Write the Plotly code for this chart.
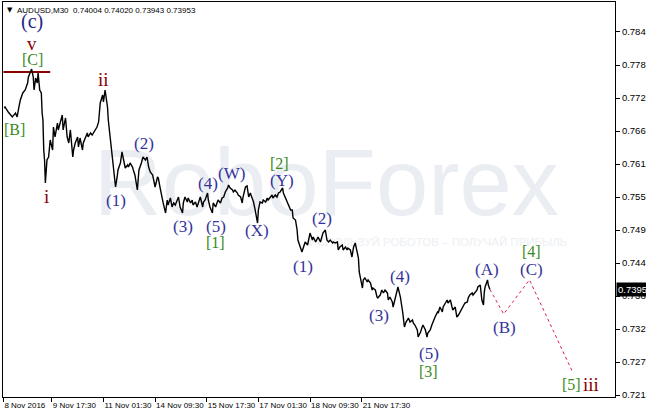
import plotly.graph_objects as go

# ---- price data (M30 close line), bar index vs price ----
bars = [1, 2, 6, 11, 15, 17, 19, 21, 24, 27, 30, 31, 35, 37, 38, 40, 42, 43, 45, 47,
        48, 49, 50, 51, 52, 54, 56, 58, 61, 62, 64, 67, 68, 71, 73, 74, 77, 79, 81, 83,
        86, 87, 89, 92, 93, 95, 98, 99, 102, 104, 105, 108, 110, 112, 114, 116, 118, 120, 123, 124,
        126, 129, 130, 133, 135, 136, 139, 141, 142, 145, 147, 149, 151, 154, 155, 157, 160, 161, 163, 166,
        167, 168, 171, 173, 176, 178, 180, 182, 185, 186, 188, 191, 192, 194, 197, 198, 201, 203, 204, 207,
        209, 211, 213, 216, 217, 219, 222, 223, 225, 228, 229, 232, 234, 235, 238, 240, 242, 244, 247, 248,
        250, 253, 254, 256, 259, 260, 263, 265, 266, 269, 271, 273, 275, 278, 279, 281, 284, 285, 287, 290,
        291, 294, 296, 297, 300, 302, 304, 306, 308, 310, 312, 315, 316, 318, 321, 322, 325, 327, 328, 331,
        333, 334, 337, 339, 341, 343, 346, 347, 349, 352, 353, 356, 358, 359, 362, 364, 365, 368, 370, 372,
        374, 377, 378, 380, 383, 384, 387, 389, 390, 393, 395, 396, 399, 401, 403, 405, 408, 409, 411, 414,
        415, 417, 420, 421, 424, 426, 427, 430, 432, 434, 436, 438, 440, 441, 443, 445, 446, 448, 451, 452,
        455, 457, 458, 461, 463, 464, 467, 469, 471, 473, 476, 477, 479, 482, 483, 486, 488, 489, 492, 494,
        495, 497, 499, 502, 504, 507, 508, 510, 513, 514, 517, 519, 520, 523, 525, 526, 529, 531, 533, 535,
        538, 539, 541, 544, 545, 548, 550, 551, 554, 556, 557, 560, 562, 564, 566, 569, 570, 572, 575, 576,
        578, 581, 582, 585, 587, 588, 591, 593, 595, 596, 597, 600, 601, 603]
closes = [0.77088, 0.77105, 0.77018, 0.76932, 0.77001, 0.76932, 0.77088, 0.77226, 0.77347, 0.77398,
          0.77519, 0.77623, 0.77760, 0.77623, 0.77398, 0.77606, 0.77519, 0.77692, 0.77398, 0.77347,
          0.77001, 0.76880, 0.76362, 0.76189, 0.75792, 0.76189, 0.76241, 0.76535, 0.76362, 0.76759,
          0.76587, 0.76828, 0.76708, 0.76880, 0.76967, 0.76708, 0.76915, 0.76587, 0.76483, 0.76708,
          0.76241, 0.76362, 0.76483, 0.76587, 0.76414, 0.76569, 0.76362, 0.76483, 0.76587, 0.76656,
          0.76587, 0.76656, 0.76621, 0.76673, 0.76708, 0.76759, 0.76846, 0.77174, 0.77312, 0.77191,
          0.77398, 0.77105, 0.76880, 0.76483, 0.76310, 0.76068, 0.75723, 0.75896, 0.76017, 0.76138,
          0.76328, 0.76189, 0.76051, 0.76103, 0.76068, 0.76138, 0.76068, 0.76017, 0.75930, 0.75671,
          0.75878, 0.76017, 0.76138, 0.76241, 0.76189, 0.76241, 0.76068, 0.75982, 0.75930, 0.75844,
          0.75723, 0.75896, 0.75878, 0.75723, 0.75498, 0.75447, 0.75274, 0.75498, 0.75412, 0.75533,
          0.75378, 0.75447, 0.75412, 0.75498, 0.75550, 0.75378, 0.75274, 0.75447, 0.75550, 0.75464,
          0.75533, 0.75447, 0.75498, 0.75412, 0.75464, 0.75378, 0.75447, 0.75550, 0.75378, 0.75464,
          0.75498, 0.75619, 0.75498, 0.75378, 0.75274, 0.75447, 0.75378, 0.75447, 0.75498, 0.75447,
          0.75533, 0.75550, 0.75637, 0.75706, 0.75758, 0.75706, 0.75671, 0.75637, 0.75671, 0.75619,
          0.75585, 0.75550, 0.75447, 0.75550, 0.75723, 0.75740, 0.75550, 0.75619, 0.75533, 0.75464,
          0.75326, 0.75101, 0.75326, 0.75464, 0.75447, 0.75498, 0.75464, 0.75533, 0.75498, 0.75550,
          0.75585, 0.75533, 0.75585, 0.75550, 0.75619, 0.75637, 0.75706, 0.75619, 0.75550, 0.75464,
          0.75447, 0.75326, 0.75326, 0.75188, 0.75153, 0.74980, 0.74807, 0.74687, 0.74600, 0.74687,
          0.74773, 0.74721, 0.74807, 0.74928, 0.74807, 0.74859, 0.74773, 0.74842, 0.74859, 0.74773,
          0.74859, 0.74928, 0.74980, 0.74807, 0.74773, 0.74807, 0.74756, 0.74773, 0.74756, 0.74773,
          0.74635, 0.74687, 0.74721, 0.74635, 0.74687, 0.74635, 0.74669, 0.74635, 0.74514, 0.74687,
          0.74756, 0.74635, 0.74497, 0.74255, 0.74082, 0.73978, 0.74117, 0.74151, 0.74082, 0.74117,
          0.74065, 0.73944, 0.73978, 0.73944, 0.73823, 0.73806, 0.73857, 0.73944, 0.73892, 0.73944,
          0.73892, 0.73771, 0.73823, 0.73737, 0.73650, 0.73823, 0.73909, 0.73996, 0.73823, 0.73650,
          0.73547, 0.73305, 0.73391, 0.73460, 0.73391, 0.73426, 0.73374, 0.73339, 0.73253, 0.73132,
          0.73218, 0.73305, 0.73339, 0.73253, 0.73132, 0.73201, 0.73253, 0.73339, 0.73426, 0.73477,
          0.73564, 0.73547, 0.73650, 0.73564, 0.73650, 0.73737, 0.73771, 0.73719, 0.73771, 0.73650,
          0.73598, 0.73650, 0.73477, 0.73512, 0.73564, 0.73650, 0.73685, 0.73719, 0.73737, 0.73806,
          0.73857, 0.73892, 0.73857, 0.73909, 0.73944, 0.73996, 0.74030, 0.73771, 0.73685, 0.73909,
          0.73996, 0.74117, 0.74030, 0.73953]

# forecast path (A)->(B)->(C)->[5]
forecast_bars = [603, 620, 652, 705]
forecast_prices = [0.73953, 0.73530, 0.74120, 0.72540]

# resistance level at the [C] top
level_bars = [0, 58]
level_price = 0.77710

x_tick_bars = [0, 60, 124, 188, 252, 316, 380, 444]
x_tick_labels = ["8 Nov 2016", "9 Nov 17:30", "11 Nov 01:30", "14 Nov 09:30",
                 "15 Nov 17:30", "17 Nov 01:30", "18 Nov 09:30", "21 Nov 17:30"]
y_ticks = [0.7840, 0.7783, 0.7726, 0.7669, 0.7612, 0.7555, 0.7498, 0.7441,
           0.7384, 0.7327, 0.7270, 0.7213]
y_tick_labels = ["0.7840", "0.7783", "0.7726", "0.7669", "0.7612", "0.7555", "0.7498",
                 "0.7441", "0.7384", "0.7327", "0.7270", "0.7213"]
last_price = 0.73953
header_text = "AUDUSD,M30&nbsp;&nbsp;0.74004 0.74020 0.73943 0.73953"

# wave labels: text, bar, price, kind
wave_labels = [
    ("(c)", 36, 0.78573, "c"),
    ("v", 36, 0.78193, "roman"),
    ("[C]", 36, 0.77917, "green"),
    ("[B]", 14, 0.76708, "green"),
    ("i", 53, 0.75567, "roman"),
    ("ii", 124, 0.77588, "roman"),
    ("(1)", 140, 0.75486, "blue"),
    ("(2)", 174, 0.76478, "blue"),
    ("(3)", 222, 0.75037, "blue"),
    ("(4)", 253, 0.75787, "blue"),
    ("(5)", 263, 0.75037, "blue"),
    ("[1]", 263, 0.74761, "green"),
    ("(W)", 283, 0.75960, "blue"),
    ("(X)", 314, 0.74980, "blue"),
    ("(Y)", 345, 0.75832, "blue"),
    ("[2]", 342, 0.76132, "green"),
    ("(1)", 371, 0.74346, "blue"),
    ("(2)", 395, 0.75182, "blue"),
    ("(3)", 466, 0.73512, "blue"),
    ("(4)", 492, 0.74174, "blue"),
    ("(5)", 527, 0.72850, "blue"),
    ("[3]", 527, 0.72533, "green"),
    ("(A)", 599, 0.74301, "blue"),
    ("(B)", 621, 0.73300, "blue"),
    ("[4]", 654, 0.74605, "green"),
    ("(C)", 654, 0.74301, "blue"),
    ("[5]", 704, 0.72320, "green"),
    ("iii", 728, 0.72320, "roman"),
]

styles = {
    "c": dict(color="#26268A", size=20),
    "roman": dict(color="#8B0000", size=19),
    "green": dict(color="#3A8A22", size=16),
    "blue": dict(color="#33339A", size=17),
}

SANS = "Liberation Sans, Arial, sans-serif"
XTICK_FONT = dict(family=SANS, size=8, color="black")
YTICK_FONT = dict(family=SANS, size=9.5, color="black")
SERIF = "Liberation Serif, Times New Roman, serif"

fig = go.Figure()

# watermark (drawn first, under the price line)
fig.add_trace(go.Scatter(
    x=[112], y=[0.75637], mode="text", text=["RoboForex"], textposition="middle right",
    textfont=dict(family=SANS, size=94, color="#EAEDF2"),
    hoverinfo="skip", showlegend=False, cliponaxis=False))
fig.add_trace(go.Scatter(
    x=[699], y=[0.74756], mode="text", text=["ИСПОЛЬЗУЙ РОБОТОВ – ПОЛУЧАЙ ПРИБЫЛЬ"],
    textposition="middle left",
    textfont=dict(family=SANS, size=11.5, color="#ECEFF3"),
    hoverinfo="skip", showlegend=False))

# level line
fig.add_trace(go.Scatter(
    x=level_bars, y=[level_price, level_price], mode="lines",
    line=dict(color="#8B0000", width=2), hoverinfo="skip", showlegend=False))

# price line
fig.add_trace(go.Scatter(
    x=bars, y=closes, mode="lines", line=dict(color="black", width=1.4),
    hoverinfo="skip", showlegend=False))

# forecast
fig.add_trace(go.Scatter(
    x=forecast_bars, y=forecast_prices, mode="lines",
    line=dict(color="#E0204E", width=1, dash="dot"), hoverinfo="skip", showlegend=False))

annotations = []
for text, b, p, kind in wave_labels:
    st = styles[kind]
    annotations.append(dict(
        x=b, y=p, xref="x", yref="y", text=text, showarrow=False,
        xanchor="center", yanchor="middle",
        font=dict(family=SERIF, size=st["size"], color=st["color"])))

# header
annotations.append(dict(
    x=0.003, y=0.9955, xref="paper", yref="paper", text="▼", showarrow=False,
    xanchor="left", yanchor="top", font=dict(family="DejaVu Sans", size=7, color="black")))
annotations.append(dict(
    x=0.02, y=1.0, xref="paper", yref="paper", text=header_text, showarrow=False,
    xanchor="left", yanchor="top", yshift=-2, font=dict(family=SANS, size=8, color="black")))

# current price box
annotations.append(dict(
    x=1, y=last_price, xref="paper", yref="y", text="0.73953", showarrow=False,
    xanchor="left", yanchor="middle", xshift=1,
    bgcolor="black", borderpad=1,
    font=dict(family=SANS, size=9.5, color="white")))

fig.update_layout(
    width=646, height=414,
    margin=dict(l=3, r=31, t=2, b=17, autoexpand=False),
    paper_bgcolor="white", plot_bgcolor="white",
    showlegend=False,
    annotations=annotations,
    xaxis=dict(
        range=[-0.5, 758], showgrid=False, zeroline=False, automargin=False,
        showline=True, mirror=True, linecolor="black", linewidth=1,
        ticks="outside", ticklen=4, tickcolor="black", tickwidth=1,
        tickvals=x_tick_bars, ticktext=x_tick_labels, tickangle=0,
        ticklabelposition="outside right", tickfont=XTICK_FONT,
        fixedrange=True),
    yaxis=dict(
        range=[0.72096, 0.78918], side="right", showgrid=False, zeroline=False,
        automargin=False,
        showline=True, mirror=True, linecolor="black", linewidth=1,
        ticks="outside", ticklen=4, tickcolor="black", tickwidth=1,
        tickvals=y_ticks, ticktext=y_tick_labels, tickfont=YTICK_FONT,
        fixedrange=True),
)

fig.write_html("out.html", config={"displayModeBar": False},
               post_script="document.body.style.margin='0';document.body.style.overflow='hidden';")
